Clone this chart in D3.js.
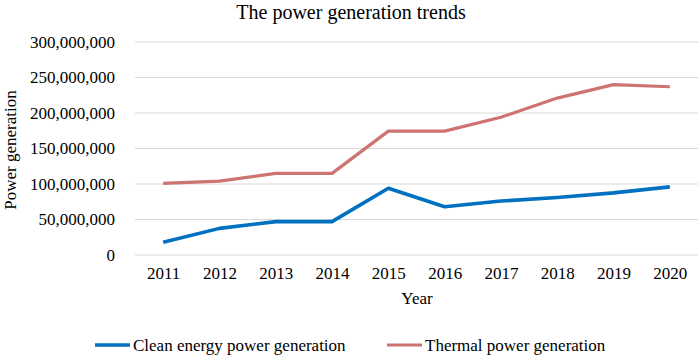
<!DOCTYPE html>
<html lang="en">
<head>
  <title>Power generation trends</title>
  <script src="https://cdn.jsdelivr.net/npm/d3@7"></script>
  <style>
    body { margin: 0; background: #fff; }
    svg text { font-family: 'Liberation Serif', 'Times New Roman', serif !important; fill: #000; }
  </style>
</head>
<body>
  <script>
    // data
    let years = ["2011", "2012", "2013", "2014", "2015", "2016", "2017", "2018", "2019", "2020"];
    let cleanValues = [18e6, 37.5e6, 47e6, 47e6, 94e6, 68e6, 76e6, 81e6, 87.5e6, 96e6];
    let thermalValues = [101e6, 104e6, 115e6, 115e6, 174.5e6, 174.5e6, 194e6, 221e6, 240e6, 237e6];
    let yTicks = [0, 50e6, 100e6, 150e6, 200e6, 250e6, 300e6];

    let svgWidth = 699, svgHeight = 357;
    let margins = { left: 135, top: 42, right: 1, bottom: 102 };
    let width = svgWidth - margins.left - margins.right;
    let height = svgHeight - margins.top - margins.bottom;

    let svg = d3.select("body").append("svg")
      .attr("width", svgWidth)
      .attr("height", svgHeight)
      .attr("font-family", "Liberation Serif, serif");

    let container = svg.append("g")
      .attr("transform", `translate(${margins.left}, ${margins.top})`);

    // scales
    let xScale = d3.scalePoint().domain(years).range([0, width]).padding(0.5);
    let yScale = d3.scaleLinear().domain([0, 300e6]).range([height, 0]);

    // grid lines
    container.selectAll(".grid").data(yTicks).join("line")
      .attr("x1", 0).attr("x2", width)
      .attr("y1", d => yScale(d)).attr("y2", d => yScale(d))
      .attr("stroke", "#d9d9d9").attr("stroke-width", 1);

    // y axis labels
    let yAxis = d3.axisLeft(yScale).tickValues(yTicks).tickSize(0).tickPadding(20)
      .tickFormat(d => d3.format(",")(d));
    let yAxisG = container.append("g").call(yAxis).attr("font-family", null).attr("font-size", 17);
    yAxisG.select(".domain").remove();

    // x axis labels
    let xAxis = d3.axisBottom(xScale).tickSize(0).tickPadding(12);
    let xAxisG = container.append("g").attr("transform", `translate(0, ${height})`)
      .call(xAxis).attr("font-family", null).attr("font-size", 17);
    xAxisG.select(".domain").remove();

    // lines
    let line = d3.line().x((d, i) => xScale(years[i])).y(d => yScale(d));
    container.append("path").datum(thermalValues)
      .attr("d", line).attr("fill", "none")
      .attr("stroke", "#cd7473").attr("stroke-width", 3.2).attr("stroke-linejoin", "round");
    container.append("path").datum(cleanValues)
      .attr("d", line).attr("fill", "none")
      .attr("stroke", "#0070c0").attr("stroke-width", 3.6).attr("stroke-linejoin", "round");

    // title
    svg.append("text").text("The power generation trends")
      .attr("x", 351).attr("y", 19)
      .attr("text-anchor", "middle")
      .attr("font-size", 20);

    // axis titles
    svg.append("text").text("Year")
      .attr("x", 417).attr("y", 304)
      .attr("text-anchor", "middle")
      .attr("font-size", 17);
    svg.append("g").attr("transform", `translate(16, 150)`)
      .append("text").text("Power generation")
      .attr("text-anchor", "middle")
      .attr("transform", "rotate(-90)")
      .attr("font-size", 17);

    // legend
    let legend = [
      { name: "Clean energy power generation", color: "#0070c0", x: 95, w: 3.6 },
      { name: "Thermal power generation", color: "#cd7473", x: 387, w: 3.2 }
    ];
    let legendG = svg.selectAll(".legend").data(legend).join("g")
      .attr("transform", d => `translate(${d.x}, 345)`);
    legendG.append("line")
      .attr("x1", 0).attr("x2", 35).attr("y1", 0).attr("y2", 0)
      .attr("stroke", d => d.color).attr("stroke-width", d => d.w);
    legendG.append("text").text(d => d.name)
      .attr("x", 38).attr("y", 5.5)
      .attr("font-size", 17);
  </script>
</body>
</html>
